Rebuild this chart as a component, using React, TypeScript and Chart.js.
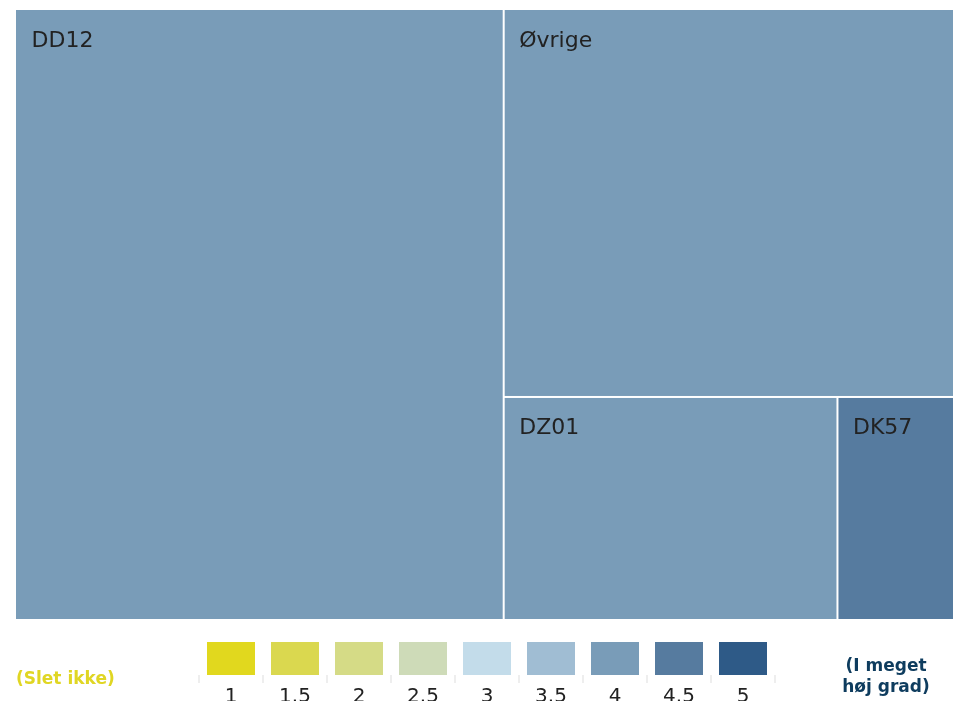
import React, { useEffect, useRef } from "react";
import { Chart, registerables } from "chart.js";

Chart.register(...registerables);

// ---- Data ----
const tileLabels = ["DD12", "Øvrige", "DZ01", "DK57"];
const tileValues = [52.1, 30.5, 13.0, 4.5];
const tileScores = [4, 4, 4, 4.5];

const scaleLabels = ["1", "1.5", "2", "2.5", "3", "3.5", "4", "4.5", "5"];
const scaleSteps = [1, 1.5, 2, 2.5, 3, 3.5, 4, 4.5, 5];
const scaleColors = [
  "#e1d81e",
  "#dad84f",
  "#d5db86",
  "#cedbb8",
  "#c3dcea",
  "#a0bdd3",
  "#799cb8",
  "#567b9f",
  "#2e5a87",
];
const lowLabel = "(Slet ikke)";
const highLabel = ["(I meget", "høj grad)"];

const FONT = "'DejaVu Sans', Verdana, sans-serif";

type Rect = { x: number; y: number; w: number; h: number };

function colorFor(score: number): string {
  let best = 0;
  let bd = Infinity;
  scaleSteps.forEach((s, i) => {
    const d = Math.abs(s - score);
    if (d < bd) {
      bd = d;
      best = i;
    }
  });
  return scaleColors[best];
}

function worst(row: number[], side: number): number {
  const s = row.reduce((a, b) => a + b, 0);
  const mx = Math.max(...row);
  const mn = Math.min(...row);
  return Math.max((side * side * mx) / (s * s), (s * s) / (side * side * mn));
}

function squarify(values: number[], rect: Rect): Rect[] {
  const total = values.reduce((a, b) => a + b, 0);
  const areas = values.map((v) => (v / total) * rect.w * rect.h);
  const out: Rect[] = [];
  let r = { ...rect };
  let rem = areas.slice();
  while (rem.length) {
    const side = Math.min(r.w, r.h);
    const row = [rem[0]];
    let i = 1;
    while (i < rem.length && worst([...row, rem[i]], side) <= worst(row, side)) {
      row.push(rem[i]);
      i++;
    }
    const s = row.reduce((a, b) => a + b, 0);
    if (r.w >= r.h) {
      const cw = s / r.h;
      let yy = r.y;
      row.forEach((a) => {
        out.push({ x: r.x, y: yy, w: cw, h: a / cw });
        yy += a / cw;
      });
      r = { x: r.x + cw, y: r.y, w: r.w - cw, h: r.h };
    } else {
      const rh = s / r.w;
      let xx = r.x;
      row.forEach((a) => {
        out.push({ x: xx, y: r.y, w: a / rh, h: rh });
        xx += a / rh;
      });
      r = { x: r.x, y: r.y + rh, w: r.w, h: r.h - rh };
    }
    rem = rem.slice(row.length);
  }
  return out;
}

const treemapPlugin = {
  id: "treemapTiles",
  afterDatasetsDraw(chart: any) {
    const ctx = chart.ctx as CanvasRenderingContext2D;
    const xs = chart.scales.x;
    const ys = chart.scales.y;
    const left = xs.getPixelForValue(0);
    const right = xs.getPixelForValue(1);
    const top = ys.getPixelForValue(1);
    const bottom = ys.getPixelForValue(0);
    const rects = squarify(tileValues, { x: left, y: top, w: right - left, h: bottom - top });
    const g = 1;
    ctx.save();
    rects.forEach((r, i) => {
      const x0 = r.x <= left + 0.5 ? r.x : r.x + g;
      const y0 = r.y <= top + 0.5 ? r.y : r.y + g;
      const x1 = r.x + r.w >= right - 0.5 ? r.x + r.w : r.x + r.w - g;
      const y1 = r.y + r.h >= bottom - 0.5 ? r.y + r.h : r.y + r.h - g;
      ctx.fillStyle = colorFor(tileScores[i]);
      ctx.fillRect(x0, y0, x1 - x0, y1 - y0);
      ctx.fillStyle = "#222222";
      ctx.font = `22px ${FONT}`;
      ctx.textBaseline = "alphabetic";
      ctx.textAlign = "left";
      ctx.fillText(tileLabels[i], r.x + 15.5, r.y + 37);
    });
    ctx.restore();
  },
};

export default function App() {
  const treeRef = useRef<HTMLCanvasElement>(null);
  const legRef = useRef<HTMLCanvasElement>(null);

  useEffect(() => {
    const tree = new Chart(treeRef.current!, {
      type: "scatter",
      data: { datasets: [] },
      options: {
        animation: false,
        responsive: false,
        layout: { padding: { left: 16, top: 10, right: 0, bottom: 0 } },
        plugins: { legend: { display: false }, tooltip: { enabled: false } },
        scales: {
          x: { type: "linear", min: 0, max: 1, display: false },
          y: { type: "linear", min: 0, max: 1, display: false },
        },
      },
      plugins: [treemapPlugin],
    });

    const leg = new Chart(legRef.current!, {
      type: "bar",
      data: {
        labels: scaleLabels,
        datasets: [
          {
            data: scaleLabels.map(() => 1),
            backgroundColor: scaleColors,
            borderWidth: 0,
            barPercentage: 0.75,
            categoryPercentage: 1,
          },
        ],
      },
      options: {
        animation: false,
        responsive: false,
        layout: { padding: { left: 199, right: 178, top: 23, bottom: 0 } },
        plugins: { legend: { display: false }, tooltip: { enabled: false } },
        scales: {
          x: {
            type: "category",
            offset: true,
            border: { display: false },
            grid: {
              offset: true,
              drawOnChartArea: false,
              drawTicks: true,
              tickLength: 8,
              color: "#eeeeee",
              lineWidth: 2,
            },
            ticks: {
              color: "#222222",
              font: { family: FONT, size: 20 },
              padding: 2,
              maxRotation: 0,
              autoSkip: false,
            },
            afterFit(scale: any) {
              scale.height = 64;
            },
          },
          y: { type: "linear", min: 0, max: 1, display: false },
        },
      },
    });

    return () => {
      tree.destroy();
      leg.destroy();
    };
  }, []);

  return (
    <div
      style={{
        position: "fixed",
        left: 0,
        top: 0,
        width: 953,
        height: 701,
        overflow: "hidden",
        background: "#ffffff",
      }}
    >
      <canvas
        ref={treeRef}
        width={953}
        height={619}
        style={{ position: "absolute", left: 0, top: 0, width: 953, height: 619 }}
      />
      <canvas
        ref={legRef}
        width={953}
        height={120}
        style={{ position: "absolute", left: 0, top: 619, width: 953, height: 120 }}
      />
      <div
        style={{
          position: "absolute",
          left: 16,
          top: 667,
          fontFamily: FONT,
          fontWeight: "bold",
          fontSize: 17,
          lineHeight: "22px",
          color: "#e0d623",
          whiteSpace: "nowrap",
        }}
      >
        {lowLabel}
      </div>
      <div
        style={{
          position: "absolute",
          left: 826,
          top: 655,
          width: 120,
          textAlign: "center",
          fontFamily: FONT,
          fontWeight: "bold",
          fontSize: 17,
          lineHeight: "21px",
          color: "#0e3c5e",
          whiteSpace: "nowrap",
        }}
      >
        {highLabel[0]}
        <br />
        {highLabel[1]}
      </div>
    </div>
  );
}
